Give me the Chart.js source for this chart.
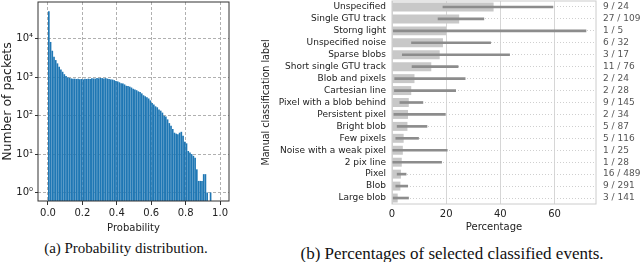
<!DOCTYPE html>
<html>
<head>
<meta charset="utf-8">
<script src="https://cdn.jsdelivr.net/npm/chart.js@4"></script>
<style>
    body { margin: 0; width: 640px; height: 262px; background: #fff; overflow: hidden; position: relative; }
    #histChart { position: absolute; left: 0; top: 0; }
    #classChart { position: absolute; left: 232px; top: 0; }
    .caption { position: absolute; font-family: 'Liberation Serif'; color: #111; white-space: nowrap; line-height: 1; transform: translateX(-50%); }
</style>
</head>
<body>
<canvas id="histChart" width="232" height="240"></canvas>
<canvas id="classChart" width="408" height="240"></canvas>
<div class="caption" style="left:126px; top:241px; font-size:15px;">(a) Probability distribution.</div>
<div class="caption" style="left:452px; top:245px; font-size:17px;">(b) Percentages of selected classified events.</div>
<script>
// Panel (a): histogram of probabilities
const binWidth = 0.01;
const binStarts = [
    0.00, 0.01, 0.02, 0.03, 0.04, 0.05, 0.06, 0.07, 0.08, 0.09,
    0.10, 0.11, 0.12, 0.13, 0.14, 0.15, 0.16, 0.17, 0.18, 0.19,
    0.20, 0.21, 0.22, 0.23, 0.24, 0.25, 0.26, 0.27, 0.28, 0.29,
    0.30, 0.31, 0.32, 0.33, 0.34, 0.35, 0.36, 0.37, 0.38, 0.39,
    0.40, 0.41, 0.42, 0.43, 0.44, 0.45, 0.46, 0.47, 0.48, 0.49,
    0.50, 0.51, 0.52, 0.53, 0.54, 0.55, 0.56, 0.57, 0.58, 0.59,
    0.60, 0.61, 0.62, 0.63, 0.64, 0.65, 0.66, 0.67, 0.68, 0.69,
    0.70, 0.71, 0.72, 0.73, 0.74, 0.75, 0.76, 0.77, 0.78, 0.79,
    0.80, 0.81, 0.82, 0.83, 0.84, 0.85, 0.86, 0.87, 0.88, 0.89,
    0.90, 0.91, 0.92, 0.93, 0.94
];
const packetCounts = [
    52000, 8300, 4900, 3400, 2800, 2300, 1870, 1600, 1390, 1200,
    1070, 1000, 960, 930, 910, 920, 900, 910, 890, 900,
    880, 910, 900, 920, 900, 940, 930, 920, 950, 940,
    960, 950, 930, 950, 920, 900, 880, 870, 840, 800,
    780, 740, 700, 690, 650, 600, 590, 570, 540, 500,
    480, 460, 430, 410, 380, 340, 320, 300, 280, 250,
    215, 195, 175, 165, 145, 135, 120, 100, 95, 80,
    64, 55, 45, 36, 34, 33, 36, 38, 30, 21,
    19, 12, 11, 10, 9, 8, 4, 2, 2, 2,
    3, 3, 1, null, 1
];
const probTicks = [0, 0.2, 0.4, 0.6, 0.8, 1.0];
const countTicks = [1, 10, 100, 1000, 10000];
const countTickLabels = ['10⁰', '10¹', '10²', '10³', '10⁴'];

// Panel (b): percentages per manual class
const classLabels = [
    'Unspecified', 'Single GTU track', 'Storng light', 'Unspecified noise', 'Sparse blobs',
    'Short single GTU track', 'Blob and pixels', 'Cartesian line', 'Pixel with a blob behind',
    'Persistent pixel', 'Bright blob', 'Few pixels', 'Noise with a weak pixel', '2 pix line',
    'Pixel', 'Blob', 'Large blob'
];
const countLabels = [
    '9 / 24', '27 / 109', '1 / 5', '6 / 32', '3 / 17', '11 / 76', '2 / 24', '2 / 28', '9 / 145',
    '2 / 34', '5 / 87', '5 / 116', '1 / 25', '1 / 28', '16 / 489', '9 / 291', '3 / 141'
];
const percentages = [37.5, 24.8, 20.0, 18.8, 17.6, 14.5, 8.3, 7.1, 6.2, 5.9, 5.7, 4.3, 4.0, 3.6, 3.3, 3.1, 2.1];
const ciLow  = [18.8, 17.0, 0.5, 7.2, 3.8, 7.4, 1.0, 0.9, 2.9, 0.7, 1.9, 1.4, 0.1, 0.1, 1.9, 1.4, 0.4];
const ciHigh = [59.4, 33.9, 71.6, 36.4, 43.4, 24.4, 27.0, 23.5, 11.4, 19.7, 12.9, 9.8, 20.4, 18.3, 5.2, 5.8, 6.1];
const pctTicks = [0, 20, 40, 60];

Chart.defaults.font.family = 'DejaVu Sans';

// box around the plot area
const framePlugin = {
    id: 'frame',
    afterDraw(chart, args, opts) {
        const { ctx, chartArea: a } = chart;
        ctx.save();
        ctx.strokeStyle = opts.color;
        ctx.lineWidth = 1;
        ctx.strokeRect(a.left, a.top, a.right - a.left, a.bottom - a.top);
        ctx.restore();
    }
};

function createHistogram() {
    const histData = binStarts.map((b, i) => ({ x: b + binWidth / 2, y: packetCounts[i] }));

    new Chart(document.getElementById('histChart'), {
        type: 'bar',
        data: {
            datasets: [{
                data: histData,
                backgroundColor: '#1f77b4',
                borderWidth: 0,
                barPercentage: 0.97,
                categoryPercentage: 1
            }]
        },
        plugins: [framePlugin],
        options: {
            responsive: false,
            animation: false,
            layout: { padding: { top: 2, right: 3, left: 0, bottom: 0 } },
            plugins: {
                legend: { display: false },
                tooltip: { enabled: false },
                frame: { color: '#333' }
            },
            scales: {
                x: {
                    type: 'linear',
                    z: 1,
                    offset: false,
                    min: -0.058,
                    max: 1.052,
                    grid: { color: '#b0b0b0', offset: false, tickColor: '#333', tickLength: 4, tickBorderDash: [], tickWidth: 1 },
                    border: { display: false, dash: [3, 2] },
                    afterBuildTicks: s => { s.ticks = probTicks.map(v => ({ value: v })); },
                    afterFit: s => { s.height = 39; s.paddingLeft = 0; s.paddingRight = 0; },
                    ticks: { callback: v => v.toFixed(1), font: { size: 10 }, color: '#222', padding: 2, maxRotation: 0 },
                    title: { display: true, text: 'Probability', font: { size: 10 }, color: '#222', padding: { top: 0, bottom: 6 } }
                },
                y: {
                    type: 'logarithmic',
                    z: 1,
                    min: 0.61,
                    max: 91000,
                    grid: { color: '#b0b0b0', tickColor: '#333', tickLength: 3, tickBorderDash: [], tickWidth: 1 },
                    border: { display: false, dash: [3, 2] },
                    afterBuildTicks: s => { s.ticks = countTicks.map(v => ({ value: v })); },
                    afterFit: s => { s.width = 38; s.paddingTop = 0; s.paddingBottom = 0; },
                    ticks: { callback: (v, i) => countTickLabels[i], font: { size: 10 }, color: '#222', padding: 2 },
                    title: { display: true, text: 'Number of packets', font: { size: 12.5 }, color: '#222', padding: { top: 0, bottom: 0 } }
                }
            }
        }
    });
}

function createClassChart() {
    const ciRanges = ciLow.map((lo, i) => [lo, ciHigh[i]]);

    new Chart(document.getElementById('classChart'), {
        type: 'bar',
        data: {
            labels: classLabels,
            datasets: [
                { data: ciRanges, backgroundColor: '#8c8c8c', barThickness: 2, grouped: false, order: 0 },
                { data: percentages, backgroundColor: '#c8c8c8', barPercentage: 0.75, categoryPercentage: 1, grouped: false, order: 1 }
            ]
        },
        plugins: [framePlugin],
        options: {
            indexAxis: 'y',
            responsive: false,
            animation: false,
            layout: { padding: { top: 1, right: 0, left: 0, bottom: 0 } },
            plugins: {
                legend: { display: false },
                tooltip: { enabled: false },
                frame: { color: '#cccccc' }
            },
            scales: {
                x: {
                    min: 0,
                    max: 75.3,
                    grid: { color: '#d6d6d6', drawTicks: false },
                    border: { display: false },
                    afterBuildTicks: s => { s.ticks = pctTicks.map(v => ({ value: v })); },
                    afterFit: s => { s.height = 36; s.paddingLeft = 0; s.paddingRight = 0; },
                    ticks: { font: { size: 10 }, color: '#222', padding: 4 },
                    title: { display: true, text: 'Percentage', font: { size: 10 }, color: '#222', padding: { top: 0, bottom: 7 } }
                },
                y: {
                    grid: { color: '#cfcfcf', drawTicks: false, offset: false },
                    border: { display: false, dash: [1, 2] },
                    afterFit: s => { s.width = 160; s.paddingTop = 0; s.paddingBottom = 0; },
                    ticks: { autoSkip: false, font: { size: 9 }, color: '#222', padding: 6 },
                    title: { display: true, text: 'Manual classification label', font: { size: 9.6 }, color: '#222', padding: { top: 29, bottom: 0 } }
                },
                y2: {
                    type: 'category',
                    labels: countLabels,
                    position: 'right',
                    offset: true,
                    grid: { display: false, drawTicks: false },
                    border: { display: false },
                    afterFit: s => { s.width = 44; s.paddingTop = 0; s.paddingBottom = 0; },
                    ticks: { autoSkip: false, font: { size: 9 }, color: '#555', padding: 7 }
                }
            }
        }
    });
}

createHistogram();
createClassChart();
</script>
</body>
</html>
